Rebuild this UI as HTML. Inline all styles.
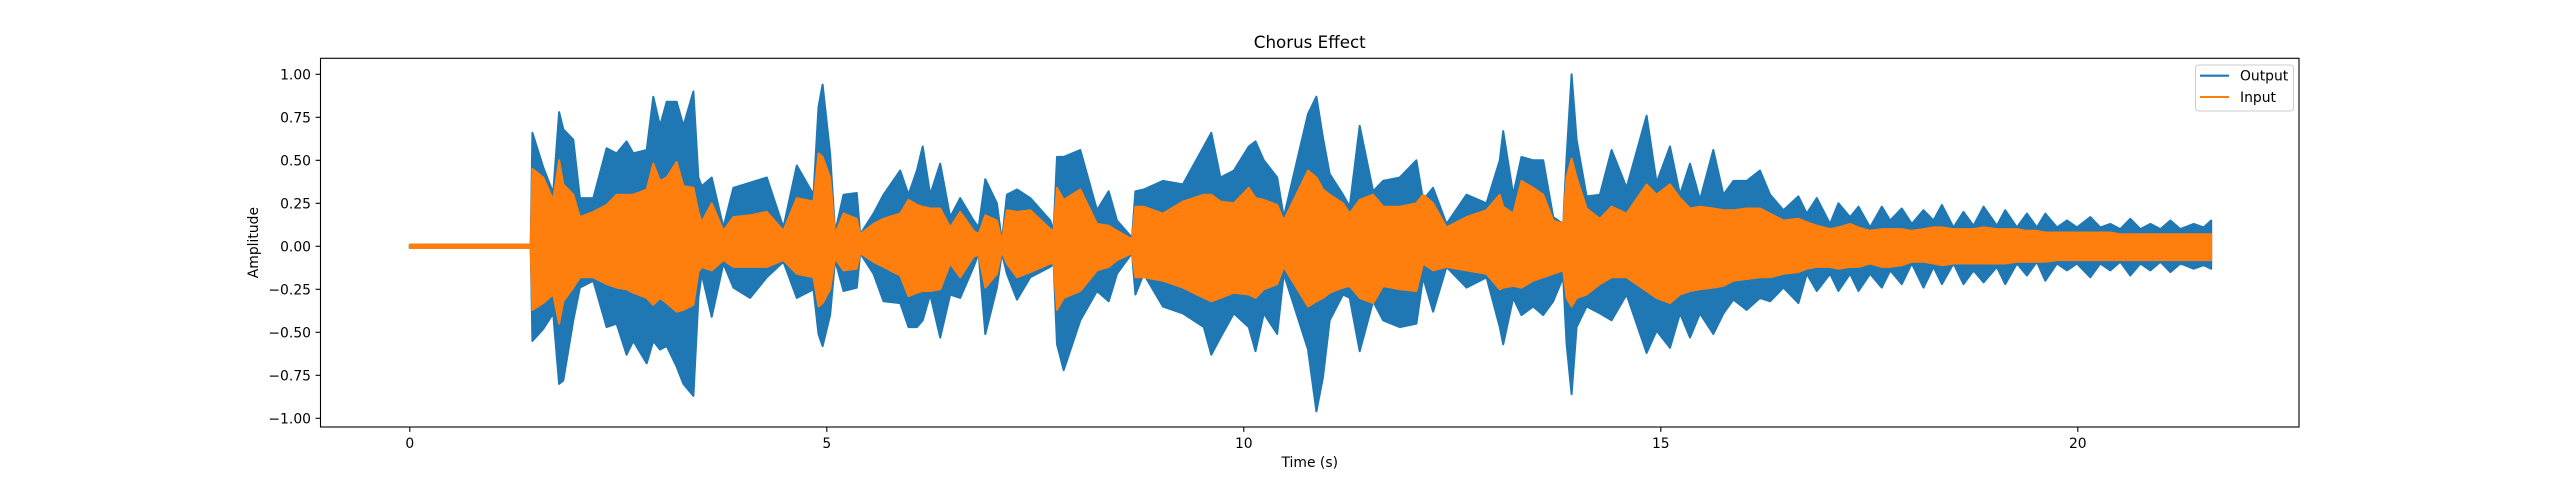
<!DOCTYPE html>
<html><head><meta charset="utf-8">
<style>
html,body{margin:0;padding:0;background:#fff;}
svg{display:block;font-family:"DejaVu Sans","Liberation Sans",sans-serif;}
</style></head>
<body>
<svg id="chart" width="2556" height="480" viewBox="0 0 2556 480" xmlns="http://www.w3.org/2000/svg">
<rect x="0" y="0" width="2556" height="480" fill="#fff"/>
<text x="1309.75" y="48" font-size="16.7" text-anchor="middle" fill="#000">Chorus Effect</text>
<text x="1309.75" y="467" font-size="13.9" text-anchor="middle" fill="#000">Time (s)</text>
<text x="0" y="0" font-size="13.9" text-anchor="middle" fill="#000" transform="translate(258,242.6) rotate(-90)">Amplitude</text>
<g id="plot"></g>
<g id="axes"></g>
<g>
<rect x="2195.5" y="65" width="98" height="46" rx="3" fill="#fff" fill-opacity="0.8" stroke="#cccccc" stroke-width="1"/>
<g>
<line x1="2200" y1="75.7" x2="2229" y2="75.7" stroke="#1f77b4" stroke-width="2.1"/>
<text x="2240" y="80.5" font-size="13.9" fill="#000">Output</text>
</g>
<g>
<line x1="2200" y1="97" x2="2229" y2="97" stroke="#ff7f0e" stroke-width="2.1"/>
<text x="2240" y="101.8" font-size="13.9" fill="#000">Input</text>
</g>
</g>
</svg>
<script>
const times = [0.00,1.45,1.47,1.60,1.72,1.79,1.84,1.96,2.04,2.20,2.36,2.48,2.60,2.68,2.84,2.92,3.00,3.08,3.20,3.28,3.40,3.46,3.50,3.62,3.76,3.88,4.08,4.28,4.48,4.64,4.84,4.90,4.95,5.04,5.10,5.20,5.36,
5.40,5.56,5.68,5.88,5.98,6.08,6.15,6.24,6.36,6.48,6.60,6.76,6.82,6.90,7.04,7.10,7.16,7.28,7.44,7.68,7.72,7.76,7.84,8.04,8.24,8.38,8.48,8.66,8.70,8.80,9.03,9.27,9.52,9.61,9.72,9.88,10.06,10.14,10.24,10.40,10.48,
10.77,10.87,10.95,11.03,11.19,11.27,11.39,11.55,11.67,11.87,12.07,12.15,12.27,12.43,12.67,12.91,13.07,13.11,13.23,13.33,13.47,13.59,13.71,13.83,13.87,13.93,13.99,14.11,14.27,14.41,14.59,14.83,14.95,15.11,15.23,15.35,15.47,15.63,15.75,15.87,16.03,
16.19,16.31,16.47,16.65,16.75,16.87,17.03,17.13,17.27,17.37,17.51,17.65,17.75,17.89,18.01,18.15,18.27,18.37,18.51,18.63,18.75,18.87,19.03,19.13,19.27,19.39,19.51,19.61,19.75,19.87,19.99,20.15,20.27,20.39,20.51,20.63,20.75,20.87,20.99,21.11,21.23,21.39,21.51,21.60];
const outputUpper = [0.01,0.01,0.66,0.46,0.31,0.78,0.68,0.62,0.28,0.28,0.57,0.54,0.61,0.54,0.56,0.87,0.70,0.84,0.84,0.70,0.90,0.40,0.35,0.40,0.11,0.34,0.37,0.40,0.11,0.47,0.30,0.81,0.94,0.54,0.08,0.30,0.31,
0.07,0.19,0.30,0.44,0.30,0.44,0.58,0.30,0.48,0.17,0.28,0.15,0.11,0.39,0.25,0.03,0.30,0.33,0.28,0.15,0.09,0.52,0.52,0.56,0.21,0.32,0.15,0.05,0.32,0.33,0.38,0.36,0.58,0.66,0.40,0.44,0.58,0.61,0.50,0.40,0.17,
0.77,0.87,0.63,0.42,0.30,0.23,0.70,0.32,0.38,0.40,0.50,0.27,0.34,0.13,0.30,0.25,0.50,0.67,0.30,0.52,0.50,0.50,0.17,0.13,0.52,1.00,0.62,0.29,0.30,0.56,0.34,0.76,0.37,0.58,0.30,0.48,0.27,0.56,0.30,0.38,0.38,
0.44,0.30,0.21,0.29,0.19,0.28,0.13,0.25,0.17,0.23,0.11,0.23,0.15,0.22,0.13,0.21,0.15,0.24,0.11,0.20,0.12,0.23,0.12,0.21,0.11,0.19,0.11,0.19,0.11,0.15,0.11,0.17,0.11,0.13,0.10,0.16,0.10,0.13,0.10,0.15,0.10,0.13,0.11,0.15];
const outputLower = [-0.01,-0.01,-0.55,-0.48,-0.39,-0.80,-0.78,-0.43,-0.24,-0.20,-0.47,-0.45,-0.63,-0.55,-0.68,-0.55,-0.60,-0.58,-0.70,-0.80,-0.87,-0.30,-0.16,-0.41,-0.10,-0.24,-0.30,-0.18,-0.09,-0.30,-0.25,-0.51,-0.58,-0.40,-0.08,-0.26,-0.24,
-0.04,-0.16,-0.32,-0.33,-0.47,-0.47,-0.43,-0.28,-0.53,-0.28,-0.30,-0.12,-0.04,-0.51,-0.24,-0.04,-0.16,-0.31,-0.18,-0.12,-0.10,-0.57,-0.72,-0.43,-0.26,-0.32,-0.16,-0.04,-0.28,-0.16,-0.35,-0.39,-0.47,-0.63,-0.53,-0.39,-0.47,-0.61,-0.39,-0.51,-0.16,
-0.60,-0.96,-0.76,-0.43,-0.28,-0.30,-0.61,-0.32,-0.43,-0.47,-0.45,-0.18,-0.38,-0.12,-0.24,-0.18,-0.47,-0.57,-0.30,-0.40,-0.35,-0.40,-0.32,-0.18,-0.57,-0.86,-0.47,-0.35,-0.39,-0.43,-0.28,-0.62,-0.49,-0.59,-0.39,-0.53,-0.39,-0.51,-0.39,-0.31,-0.37,
-0.30,-0.32,-0.24,-0.33,-0.16,-0.26,-0.16,-0.26,-0.16,-0.26,-0.16,-0.24,-0.14,-0.22,-0.10,-0.24,-0.12,-0.22,-0.10,-0.22,-0.14,-0.21,-0.12,-0.22,-0.10,-0.17,-0.09,-0.20,-0.10,-0.14,-0.10,-0.18,-0.10,-0.14,-0.09,-0.17,-0.10,-0.14,-0.09,-0.15,-0.10,-0.13,-0.11,-0.13];
const inputUpper = [0.01,0.01,0.45,0.40,0.27,0.50,0.36,0.30,0.17,0.20,0.24,0.30,0.30,0.30,0.33,0.48,0.38,0.40,0.49,0.35,0.34,0.20,0.14,0.25,0.09,0.17,0.18,0.20,0.09,0.28,0.26,0.54,0.52,0.40,0.07,0.19,0.16,
0.07,0.13,0.16,0.19,0.27,0.24,0.23,0.22,0.22,0.11,0.20,0.09,0.07,0.18,0.15,0.03,0.21,0.20,0.21,0.10,0.09,0.34,0.27,0.33,0.13,0.12,0.09,0.04,0.23,0.23,0.19,0.26,0.30,0.30,0.26,0.25,0.34,0.28,0.27,0.24,0.15,
0.44,0.40,0.33,0.30,0.25,0.19,0.27,0.30,0.23,0.23,0.25,0.30,0.25,0.11,0.17,0.21,0.30,0.23,0.19,0.38,0.34,0.30,0.15,0.13,0.40,0.51,0.40,0.22,0.16,0.23,0.19,0.36,0.30,0.36,0.28,0.22,0.23,0.22,0.21,0.21,0.22,
0.22,0.19,0.15,0.16,0.14,0.12,0.10,0.11,0.13,0.11,0.09,0.10,0.10,0.10,0.09,0.10,0.11,0.11,0.10,0.10,0.10,0.11,0.10,0.10,0.10,0.09,0.09,0.08,0.08,0.08,0.08,0.08,0.08,0.08,0.07,0.07,0.07,0.07,0.07,0.07,0.07,0.07,0.07,0.07];
const inputLower = [-0.01,-0.01,-0.37,-0.33,-0.28,-0.45,-0.32,-0.24,-0.18,-0.18,-0.22,-0.24,-0.25,-0.27,-0.30,-0.34,-0.30,-0.33,-0.38,-0.37,-0.34,-0.15,-0.12,-0.14,-0.08,-0.12,-0.12,-0.12,-0.08,-0.16,-0.18,-0.35,-0.33,-0.25,-0.07,-0.14,-0.13,
-0.04,-0.09,-0.12,-0.17,-0.29,-0.27,-0.26,-0.26,-0.25,-0.10,-0.18,-0.06,-0.05,-0.24,-0.16,-0.03,-0.10,-0.18,-0.15,-0.10,-0.10,-0.37,-0.30,-0.26,-0.14,-0.12,-0.08,-0.04,-0.18,-0.18,-0.20,-0.24,-0.30,-0.32,-0.30,-0.27,-0.28,-0.30,-0.25,-0.22,-0.12,
-0.35,-0.32,-0.30,-0.27,-0.24,-0.23,-0.30,-0.33,-0.23,-0.25,-0.26,-0.10,-0.14,-0.12,-0.14,-0.16,-0.25,-0.24,-0.23,-0.24,-0.20,-0.18,-0.16,-0.14,-0.30,-0.35,-0.30,-0.28,-0.22,-0.18,-0.18,-0.26,-0.30,-0.33,-0.28,-0.26,-0.25,-0.24,-0.23,-0.20,-0.19,
-0.18,-0.18,-0.16,-0.15,-0.13,-0.12,-0.12,-0.13,-0.12,-0.12,-0.10,-0.12,-0.12,-0.11,-0.09,-0.09,-0.10,-0.11,-0.10,-0.10,-0.10,-0.10,-0.10,-0.10,-0.09,-0.09,-0.09,-0.09,-0.08,-0.08,-0.08,-0.08,-0.08,-0.08,-0.08,-0.08,-0.08,-0.08,-0.08,-0.08,-0.08,-0.08,-0.08,-0.08];
const xTicks = [0,5,10,15,20];
const xTickLabels = ["0","5","10","15","20"];
const yTicks = [-1.00,-0.75,-0.50,-0.25,0.00,0.25,0.50,0.75,1.00];
const yTickLabels = ["\u22121.00","\u22120.75","\u22120.50","\u22120.25","0.00","0.25","0.50","0.75","1.00"];

const NS = "http://www.w3.org/2000/svg";
const AX = {left:320.5, right:2299, top:58.3, bottom:427};
const X0 = 409.8, XS = 83.4, Y0 = 246.3, YS = 172;
function xScale(t){ return X0 + XS * t; }
function yScale(v){ return Y0 - YS * v; }

function bandPath(up, lo){
  let d = "";
  for (let i = 0; i < times.length; i++) d += (i ? "L" : "M") + xScale(times[i]).toFixed(1) + "," + yScale(up[i]).toFixed(1);
  for (let i = times.length - 1; i >= 0; i--) d += "L" + xScale(times[i]).toFixed(1) + "," + yScale(lo[i]).toFixed(1);
  return d + "Z";
}
const plot = document.getElementById('plot');
const outPath = document.createElementNS(NS, 'path');


outPath.setAttribute('d', bandPath(outputUpper, outputLower));
outPath.setAttribute('fill', '#1f77b4');
outPath.setAttribute('stroke', '#1f77b4');
outPath.setAttribute('stroke-width', '2');
outPath.setAttribute('stroke-linejoin', 'round');
plot.appendChild(outPath);
const inPath = document.createElementNS(NS, 'path');


inPath.setAttribute('d', bandPath(inputUpper, inputLower));
inPath.setAttribute('fill', '#ff7f0e');
inPath.setAttribute('stroke', '#ff7f0e');
inPath.setAttribute('stroke-width', '2');
inPath.setAttribute('stroke-linejoin', 'round');
plot.appendChild(inPath);

const axes = document.getElementById('axes');
const frame = document.createElementNS(NS, 'rect');


frame.setAttribute('x', AX.left); frame.setAttribute('y', AX.top);
frame.setAttribute('width', AX.right - AX.left); frame.setAttribute('height', AX.bottom - AX.top);
frame.setAttribute('fill', 'none'); frame.setAttribute('stroke', '#000'); frame.setAttribute('stroke-width', '1.1');
axes.appendChild(frame);

xTicks.forEach((t, i) => {
  const x = xScale(t);
  const tk = document.createElementNS(NS, 'line');
  
  
  tk.setAttribute('x1', x); tk.setAttribute('x2', x);
  tk.setAttribute('y1', AX.bottom); tk.setAttribute('y2', AX.bottom + 4.9);
  tk.setAttribute('stroke', '#000'); tk.setAttribute('stroke-width', '1.1');
  axes.appendChild(tk);
  const lb = document.createElementNS(NS, 'text');
  
  
  lb.setAttribute('x', x); lb.setAttribute('y', 448);
  lb.setAttribute('font-size', '13.9'); lb.setAttribute('text-anchor', 'middle');
  lb.textContent = xTickLabels[i];
  axes.appendChild(lb);
});
yTicks.forEach((v, i) => {
  const y = yScale(v);
  const tk = document.createElementNS(NS, 'line');
  
  
  tk.setAttribute('x1', AX.left - 4.9); tk.setAttribute('x2', AX.left);
  tk.setAttribute('y1', y); tk.setAttribute('y2', y);
  tk.setAttribute('stroke', '#000'); tk.setAttribute('stroke-width', '1.1');
  axes.appendChild(tk);
  const lb = document.createElementNS(NS, 'text');
  
  
  lb.setAttribute('x', AX.left - 9.5); lb.setAttribute('y', y + 5);
  lb.setAttribute('font-size', '13.9'); lb.setAttribute('text-anchor', 'end');
  lb.textContent = yTickLabels[i];
  axes.appendChild(lb);
});
</script>
</body></html>
